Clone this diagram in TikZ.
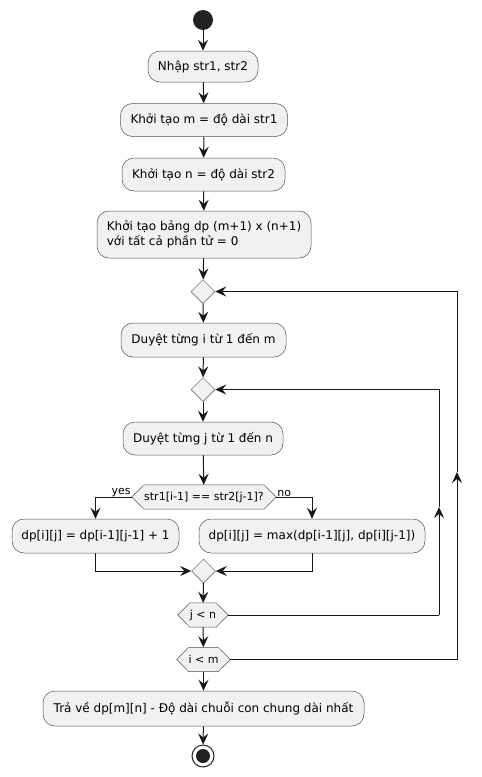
\documentclass[tikz,border=0pt]{standalone}
\usepackage{fontspec}
\setmainfont{DejaVu Sans}
\usetikzlibrary{arrows.meta,shapes.geometric,backgrounds}
\definecolor{boxfill}{HTML}{F1F1F1}
\definecolor{ink}{HTML}{181818}
\definecolor{dot}{HTML}{222222}
\begin{document}
\begin{tikzpicture}[x=1pt,y=-1pt,
  font=\fontsize{12}{14.5}\selectfont,
  act/.style={draw=ink!75,line width=0.5pt,fill=boxfill,rounded corners=12pt,inner sep=0pt},
  merge/.style={diamond,draw=ink!75,line width=0.5pt,fill=boxfill,inner sep=0pt,minimum width=24,minimum height=24},
  hexbox/.style={inner sep=0pt,minimum height=24,font=\fontsize{11}{13}\selectfont},
  hexline/.style={draw=ink!75,line width=0.5pt,fill=boxfill},
  edge/.style={draw=ink,line width=1pt},
  flow/.style={edge,-{Stealth[length=11pt,width=10pt,inset=4pt]}},
  lbl/.style={inner sep=1pt,font=\fontsize{11}{13}\selectfont}]
\useasboundingbox (0,0) rectangle (482,777);

% start / actions of the setup phase
\node[circle,fill=dot,minimum size=20,inner sep=0pt] (start) at (203,20) {};
\node[act,minimum width=110,minimum height=31] (b1) at (203,66.5) {Nhập str1, str2};
\node[act,minimum width=167,minimum height=33] (b2) at (204,120) {Khởi tạo m = độ dài str1};
\node[act,minimum width=163,minimum height=33] (b3) at (203.5,174.5) {Khởi tạo n = độ dài str2};
\node[act,minimum width=214,minimum height=47,align=left] (b4) at (204,234.5) {Khởi tạo bảng dp (m+1) x (n+1)\\với tất cả phần tử = 0};

% outer loop
\node[merge] (d1) at (203,291.5) {};
\node[act,minimum width=165,minimum height=34] (bi) at (203.5,340) {Duyệt từng i từ 1 đến m};

% inner loop
\node[merge] (d2) at (203,389.5) {};
\node[act,minimum width=160,minimum height=33] (bj) at (203,438.5) {Duyệt từng j từ 1 đến n};

% comparison
\node[hexbox,minimum width=144] (cmp) at (204,497) {str1[i-1] == str2[j-1]?};
\node[act,minimum width=167,minimum height=34] (yes) at (95.5,536) {dp[i][j] = dp[i-1][j-1] + 1};
\node[act,minimum width=226,minimum height=34] (no) at (312,536) {dp[i][j] = max(dp[i-1][j], dp[i][j-1])};
\node[merge] (m) at (203.5,571) {};

% loop tests
\node[hexbox,minimum width=50] (jn) at (203,615) {j < n};
\node[hexbox,minimum width=53] (im) at (203.5,659.5) {i < m};

% result and end
\node[act,minimum width=321,minimum height=35] (res) at (203.5,708.5) {Trả về dp[m][n] - Độ dài chuỗi con chung dài nhất};
\node[circle,draw=dot,line width=1pt,fill=white,minimum size=22,inner sep=0pt] (stop) at (203,756) {};
\fill[dot] (stop.center) circle (7);

% hexagon outlines behind the test labels
\begin{pgfonlayer}{background}
  \foreach \h in {cmp,jn,im}{
    \path[hexline] (\h.west) -- ([xshift=12pt]\h.north west) -- ([xshift=-12pt]\h.north east)
      -- (\h.east) -- ([xshift=-12pt]\h.south east) -- ([xshift=12pt]\h.south west) -- cycle;
  }
\end{pgfonlayer}

% main flow
\draw[flow] (start) -- (b1);
\draw[flow] (b1) -- (b2);
\draw[flow] (b2) -- (b3);
\draw[flow] (b3) -- (b4);
\draw[flow] (b4) -- (d1);
\draw[flow] (d1) -- (bi);
\draw[flow] (bi) -- (d2);
\draw[flow] (d2) -- (bj);
\draw[flow] (bj) -- (cmp);
\draw[flow] (cmp.west) -| (yes.north);
\draw[flow] (cmp.east) -| (no.north);
\node[lbl,anchor=south east] at ([yshift=-1pt]cmp.west) {yes};
\node[lbl,anchor=south west] at ([yshift=-1pt]cmp.east) {no};
\draw[flow] (yes.south) |- (m.west);
\draw[flow] (no.south) |- (m.east);
\draw[flow] (m) -- (jn);
\draw[flow] (jn) -- (im);
\draw[flow] (im) -- (res);
\draw[flow] (res) -- (stop);

% inner loop back edge
\coordinate (i1) at (439,615);
\coordinate (i2) at (439,507);
\coordinate (i3) at (439,389.5);
\draw[edge] (jn.east) -- (i1);
\draw[flow] (i1) -- (i2);
\draw[flow] (i2) -- (i3) -- (d2.east);

% outer loop back edge
\coordinate (o1) at (457,659.5);
\coordinate (o2) at (457,472);
\coordinate (o3) at (457,291.5);
\draw[edge] (im.east) -- (o1);
\draw[flow] (o1) -- (o2);
\draw[flow] (o2) -- (o3) -- (d1.east);
\end{tikzpicture}
\end{document}
